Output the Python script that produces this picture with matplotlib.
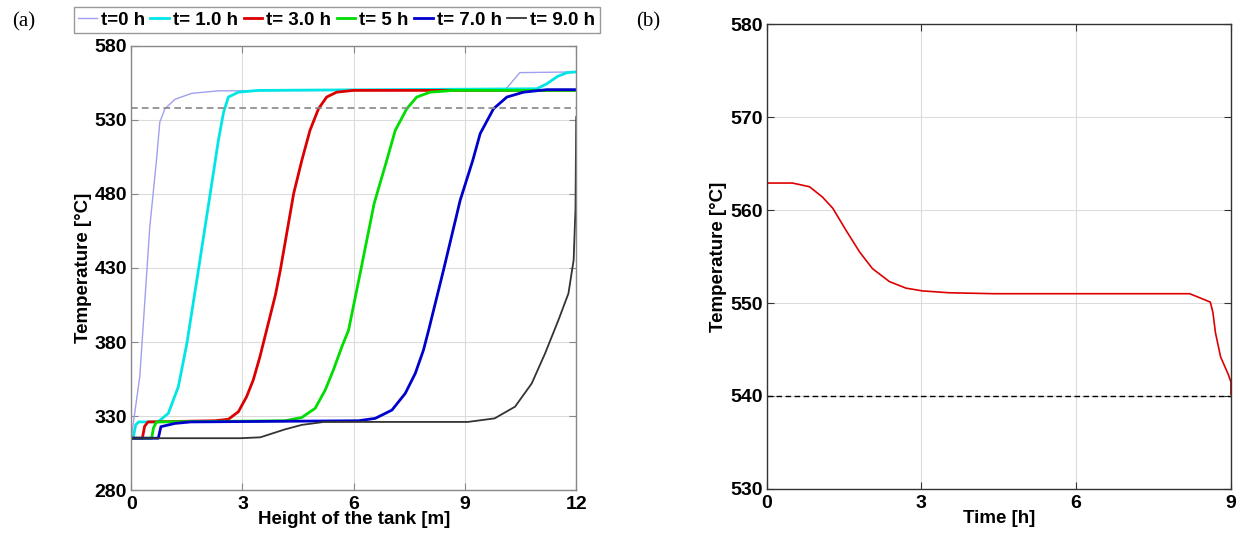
import numpy as np
import matplotlib
matplotlib.use('Agg')
import matplotlib.pyplot as plt

plt.rcParams['font.family'] = ['Liberation Sans', 'DejaVu Sans']
plt.rcParams['font.weight'] = 'bold'

# (a) temperature profiles along the tank height
h0 = [0, 0.08, 0.23, 0.38, 0.5, 0.68, 0.77, 0.91, 1.18, 1.63, 2.35, 10.09, 10.48, 12]
T0 = [315, 329.5, 356.5, 412.8, 457.7, 502.7, 528.6, 537.6, 544, 548, 549.7, 550.5, 562, 562.5]

h1 = [0, 0.05, 0.12, 0.2, 0.72, 1.0, 1.27, 1.5, 1.81, 2.13, 2.35, 2.49, 2.62, 2.89, 3.43,
      10.94, 11.21, 11.5, 11.75, 12]
T1 = [315, 315, 324, 326, 326, 331.8, 349.8, 379, 428.5, 480.3, 516.2, 535.3, 545.5, 548.8, 550,
      551.1, 554.5, 559.5, 562, 562.5]

h3 = [0, 0.3, 0.36, 0.45, 2.26, 2.62, 2.89, 3.11, 3.29, 3.47, 3.65, 3.89, 4.02, 4.38, 4.6, 4.82,
      5.05, 5.27, 5.54, 5.99, 12]
T3 = [315, 315, 323, 326, 326.8, 327.8, 332.9, 343, 354.3, 370, 388, 412, 428.5, 480.3, 502.7, 523,
      537.6, 545.5, 548.8, 550, 550]

h5 = [0, 0.55, 0.6, 0.68, 4.15, 4.6, 4.96, 5.23, 5.45, 5.68, 5.86, 6.19, 6.55, 6.89, 7.12, 7.43,
      7.7, 8.06, 8.7, 12]
T5 = [315, 315, 322, 326, 326.8, 329, 335.2, 347.5, 361, 376.8, 388, 428.5, 473.5, 502.7, 523, 537.6,
      545.5, 548.8, 550, 550]

h7 = [0, 0.73, 0.8, 1.18, 1.6, 6.13, 6.58, 7.03, 7.39, 7.66, 7.88, 8.02, 8.42, 8.87, 9.21, 9.41,
      9.77, 10.13, 10.58, 11.21, 12]
T7 = [315, 315, 322.8, 325, 326, 326.8, 328.4, 334, 345.3, 358.8, 374.5, 388, 428.5, 475.7, 502.7, 520.8,
      537.6, 545.5, 548.8, 550.5, 550.5]

h9 = [0, 2.94, 3.48, 4.15, 4.6, 5.2, 9.08, 9.8, 10.35, 10.8, 11.16, 11.52, 11.79, 11.93, 11.98, 12.0]
T9 = [315, 315, 315.6, 321, 324, 326, 326, 328.4, 336.3, 352, 372.3, 394.8, 412.8, 435.3, 470, 532]

T_limit_a = 538

# (b) outlet temperature over time
time_h = [0, 0.5, 0.83, 1.08, 1.28, 1.54, 1.8, 2.05, 2.38, 2.7, 3.02, 3.54, 4.4, 8.2, 8.6,
          8.65, 8.7, 8.8, 8.95, 9.0, 9.0]
T_out = [562.9, 562.9, 562.5, 561.4, 560.2, 557.8, 555.5, 553.7, 552.3, 551.6, 551.3, 551.1, 551.0, 551.0, 550.1,
         549.0, 546.8, 544.2, 542.3, 541.5, 540.2]
T_limit_b = 540

labels = ['t=0 h', 't= 1.0 h', 't= 3.0 h', 't= 5 h', 't= 7.0 h', 't= 9.0 h']
colors = ['#a0a0ee', '#00e6e6', '#dd0000', '#00dd00', '#0000cc', '#333333']
widths = [1.0, 2.0, 2.0, 2.0, 2.0, 1.3]

fig = plt.figure(figsize=(12.44, 5.36), dpi=100)
ax1 = fig.add_axes([0.1055, 0.0858, 0.3577, 0.8284])
ax2 = fig.add_axes([0.6163, 0.0877, 0.3732, 0.8675])


def style(ax, edge):
    ax.grid(True, color='#dcdcdc', linewidth=0.8)
    ax.set_axisbelow(True)
    ax.tick_params(direction='in', top=True, right=True, length=5, labelsize=14,
                   color=edge)
    ax.tick_params(axis='x', pad=4)
    ax.tick_params(axis='y', pad=3)
    for s in ax.spines.values():
        s.set_color(edge)
        s.set_linewidth(1.0)
    for lab in ax.get_xticklabels() + ax.get_yticklabels():
        lab.set_fontweight('bold')


lines = []
for hx, ty, lab, c, w in zip([h0, h1, h3, h5, h7, h9], [T0, T1, T3, T5, T7, T9],
                             labels, colors, widths):
    ln, = ax1.plot(hx, ty, color=c, linewidth=w, label=lab, solid_joinstyle='round')
    lines.append(ln)
ax1.axhline(T_limit_a, color='#888888', linestyle='--', linewidth=1.2, dashes=(4, 2.5))
ax1.set_xlim(0, 12)
ax1.set_ylim(280, 580)
ax1.set_xticks([0, 3, 6, 9, 12])
ax1.set_yticks(np.arange(280, 581, 50))
ax1.set_xlabel('Height of the tank [m]', fontsize=13.5, fontweight='bold', labelpad=-1)
ax1.set_ylabel('Temperature [°C]', fontsize=13.5, fontweight='bold', labelpad=2)
style(ax1, '#888888')

ax2.plot(time_h, T_out, color='#dd0000', linewidth=1.2)
ax2.axhline(T_limit_b, color='black', linestyle='--', linewidth=1.0, dashes=(4, 2.5))
ax2.set_xlim(0, 9)
ax2.set_ylim(530, 580)
ax2.set_xticks([0, 3, 6, 9])
ax2.set_yticks(np.arange(530, 581, 10))
ax2.set_xlabel('Time [h]', fontsize=13.5, fontweight='bold', labelpad=-1)
ax2.set_ylabel('Temperature [°C]', fontsize=13.5, fontweight='bold', labelpad=2)
style(ax2, '#333333')

leg = fig.legend(handles=lines, loc='center', bbox_to_anchor=(0.2705, 0.9627), ncol=6,
                 prop={'weight': 'bold', 'size': 13.5}, handlelength=1.0, handletextpad=0.2,
                 columnspacing=0.3, borderpad=0.25, fancybox=False, edgecolor='#999999',
                 framealpha=1)
leg.get_frame().set_linewidth(1.0)

fig.text(12 / 1244, 1 - 22 / 536, '(a)', family=['Liberation Serif', 'DejaVu Serif'],
         fontsize=15, va='center', ha='left', fontweight='normal')
fig.text(636 / 1244, 1 - 22 / 536, '(b)', family=['Liberation Serif', 'DejaVu Serif'],
         fontsize=15, va='center', ha='left', fontweight='normal')

fig.savefig('out.png', dpi=100)
